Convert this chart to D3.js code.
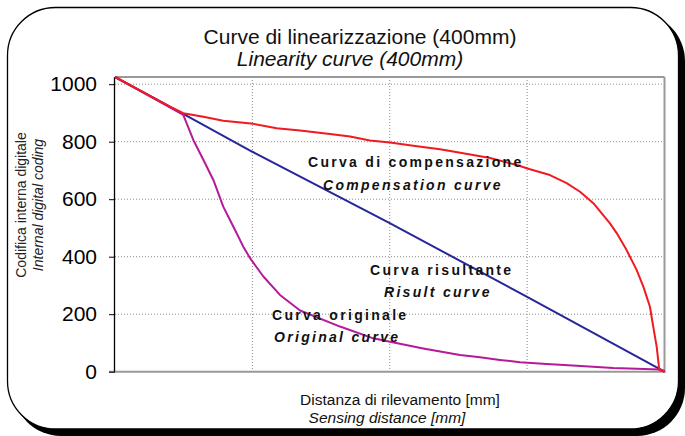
<!DOCTYPE html>
<html>
<head>
<meta charset="utf-8">
<script src="https://cdn.jsdelivr.net/npm/d3@7/dist/d3.min.js"></script>
<style>
html,body{margin:0;padding:0;background:#fff;}
svg{display:block;font-family:"Liberation Sans",Arial,sans-serif;}
</style>
</head>
<body>
<svg id="chart" width="685" height="436"></svg>
<script>
// ---- data ----
const yTicks = [0, 200, 400, 600, 800, 1000];
const xGrid = [100, 200, 300];
// distance [mm], internal digital coding
const originalX = [0, 49.7, 57.0, 64.3, 71.6, 78.8, 86.1, 93.4, 98.3, 108.0, 120.1, 134.7, 163.8, 188.0, 200.2, 224.4, 251.1, 265.7, 280.2, 294.8, 314.2, 336.1, 362.7, 396.9, 400];
const originalY = [1025, 893, 806, 737, 667, 574, 505, 435, 395, 331, 267, 213, 157, 116, 104, 81, 58, 50, 41, 33, 27, 21, 13, 8, 3];
const compX = [0, 40.0, 49.7, 64.3, 78.8, 100.7, 117.7, 134.7, 156.5, 171.1, 185.6, 200.2, 217.1, 236.6, 253.5, 273.0, 292.4, 302.1, 316.6, 328.8, 338.5, 348.2, 360.3, 365.2, 372.4, 379.7, 384.6, 389.4, 391.8, 394.3, 396.2, 400];
const compY = [1025, 922, 899, 887, 873, 862, 847, 839, 827, 818, 804, 797, 786, 774, 760, 743, 719, 704, 684, 656, 626, 586, 516, 482, 423, 354, 296, 226, 157, 87, 6, 0];
const resultX = [0, 50, 100, 200, 300, 400];
const resultY = [1025, 896, 765, 517, 260, 0];

const titleLines = ["Curve di linearizzazione (400mm)", "Linearity curve (400mm)"];
const yTitleLines = ["Codifica interna digitale", "Internal digital coding"];
const xTitleLines = ["Distanza di rilevamento [mm]", "Sensing distance [mm]"];
const labels = [
  {t: "Curva di compensazione", it: false, x: 308, y: 167},
  {t: "Compensation curve", it: true, x: 323, y: 190},
  {t: "Curva risultante", it: false, x: 370, y: 275},
  {t: "Risult curve", it: true, x: 384, y: 297},
  {t: "Curva originale", it: false, x: 272, y: 320},
  {t: "Original curve", it: true, x: 274, y: 342}
];

// ---- drawing ----
const svg = d3.select("#chart");
const L = 115, R = 664.5, T = 77, B = 371.7;
const x = d3.scaleLinear().domain([0, 400]).range([L, R]);
const y = d3.scaleLinear().domain([0, 1025]).range([B, T]);

// frame with shadow
svg.append("rect").attr("x", 13).attr("y", 13).attr("width", 672).attr("height", 423)
  .attr("rx", 48).attr("ry", 48).attr("fill", "#000");
svg.append("rect").attr("x", 7.5).attr("y", 7.5).attr("width", 671).attr("height", 421.5)
  .attr("rx", 48).attr("ry", 48).attr("fill", "#fff").attr("stroke", "#000").attr("stroke-width", 1.3);

// gridlines
const g = svg.append("g");
g.selectAll(".hg").data(yTicks.filter(d => d > 0)).join("line")
  .attr("x1", L).attr("x2", R).attr("y1", d => y(d)).attr("y2", d => y(d))
  .attr("stroke", "#8a8a8a").attr("stroke-width", 1).attr("stroke-dasharray", "1,2");
g.selectAll(".vg").data(xGrid).join("line")
  .attr("x1", d => x(d)).attr("x2", d => x(d)).attr("y1", T).attr("y2", B)
  .attr("stroke", "#8a8a8a").attr("stroke-width", 1).attr("stroke-dasharray", "1,2");

// plot border (top/right) and bottom axis
svg.append("line").attr("x1", L).attr("x2", R).attr("y1", T).attr("y2", T).attr("stroke", "#999").attr("stroke-width", 2);
svg.append("line").attr("x1", R).attr("x2", R).attr("y1", T).attr("y2", B + 1).attr("stroke", "#999").attr("stroke-width", 2);
svg.append("line").attr("x1", L - 6).attr("x2", R + 1).attr("y1", B).attr("y2", B).attr("stroke", "#999").attr("stroke-width", 2);

// y axis
const yAxis = d3.axisLeft(y).tickValues(yTicks).tickSize(6).tickPadding(12).tickFormat(d3.format("d"));
const ya = svg.append("g").attr("transform", `translate(${L},0)`).call(yAxis);
ya.select(".domain").attr("stroke", "#000").attr("stroke-width", 1.3).attr("d", `M-0.5,${T}V${B}`);
ya.selectAll(".tick line").attr("stroke", "#000").attr("stroke-width", 1);
ya.selectAll(".tick text").attr("font-size", 21).attr("fill", "#000")
  .attr("font-family", "Liberation Sans, Arial, sans-serif");

// lines
const lineGen = d3.line().x(d => x(d[0])).y(d => y(d[1]));
const series = [
  {xs: resultX, ys: resultY, c: "#26269a"},
  {xs: originalX, ys: originalY, c: "#b51a9a"},
  {xs: compX, ys: compY, c: "#f01a22"}
];
series.forEach(s => {
  svg.append("path").datum(s.xs.map((v, i) => [v, s.ys[i]]))
    .attr("d", lineGen).attr("fill", "none").attr("stroke", s.c).attr("stroke-width", 2)
    .attr("stroke-linejoin", "round");
});

// titles
svg.selectAll(".title").data(titleLines).join("text")
  .attr("x", (d, i) => i ? 350 : 360).attr("y", (d, i) => 44 + i * 22)
  .attr("text-anchor", "middle").attr("font-size", 21)
  .attr("font-style", (d, i) => i ? "italic" : "normal").attr("fill", "#111").text(d => d);

svg.selectAll(".ytitle").data(yTitleLines).join("text")
  .attr("transform", (d, i) => `translate(${26 + i * 17},205) rotate(-90)`)
  .attr("text-anchor", "middle").attr("font-size", 14)
  .attr("font-style", (d, i) => i ? "italic" : "normal").attr("fill", "#222").text(d => d);

svg.selectAll(".xtitle").data(xTitleLines).join("text")
  .attr("x", (d, i) => i ? 387 : 400).attr("y", (d, i) => 405 + i * 18)
  .attr("text-anchor", "middle").attr("font-size", 15.5)
  .attr("font-style", (d, i) => i ? "italic" : "normal").attr("fill", "#111").text(d => d);

// in-plot labels
svg.selectAll(".lbl").data(labels).join("text")
  .attr("x", d => d.x).attr("y", d => d.y)
  .attr("font-size", 14).attr("font-weight", "bold").attr("letter-spacing", "2.3px")
  .attr("font-style", d => d.it ? "italic" : "normal").attr("fill", "#111").text(d => d.t);
</script>
</body>
</html>
